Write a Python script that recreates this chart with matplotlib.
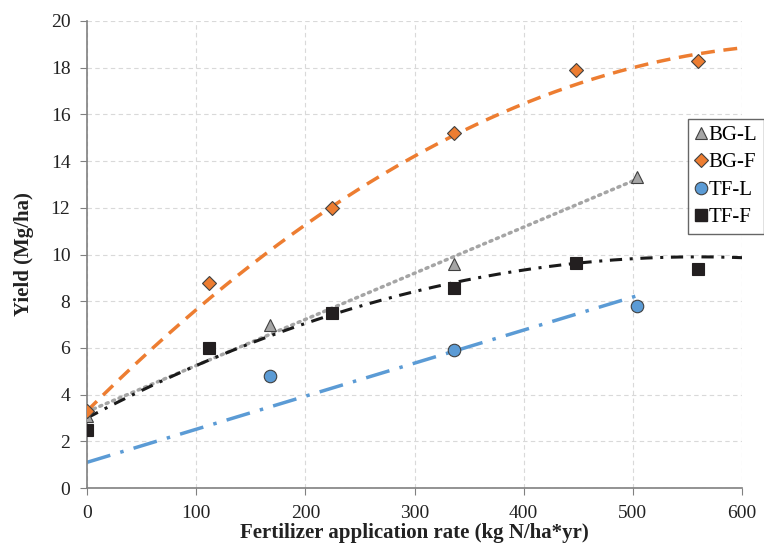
import numpy as np
import matplotlib
matplotlib.use("Agg")
import matplotlib.pyplot as plt
from matplotlib.lines import Line2D

plt.rcParams['font.family'] = ['Liberation Serif', 'DejaVu Serif']

# observed yields (Mg/ha) at each N rate (kg N/ha*yr)
bgl_x = [0, 168, 336, 504]
bgl_y = [3.1, 7.0, 9.6, 13.3]
bgf_x = [0, 112, 224, 336, 448, 560]
bgf_y = [3.3, 8.8, 12.0, 15.2, 17.9, 18.3]
tfl_x = [168, 336, 504]
tfl_y = [4.8, 5.9, 7.8]
tff_x = [0, 112, 224, 336, 448, 560]
tff_y = [2.5, 6.0, 7.5, 8.55, 9.65, 9.4]

# trend lines as drawn (coefficients c0 + c1*x + c2*x^2, x range)
bgl_trend = [3.27, 0.01976, 0.0]
bgl_range = [0, 504]
bgf_trend = [3.3, 0.04683, -3.486e-5]
bgf_range = [0, 600]
tfl_trend = [1.1, 0.01416, 0.0]
tfl_range = [0, 505]
tff_trend = [3.0, 0.02464, -2.2e-5]
tff_range = [0, 600]

fig = plt.figure(figsize=(7.64, 5.44), dpi=100)
ax = fig.add_axes([0.1139, 0.1029, 0.8573, 0.8585])

def trend(c, r):
	xx = np.linspace(r[0], r[1], 200)
	return xx, c[0] + c[1]*xx + c[2]*xx**2

x, y = trend(bgl_trend, bgl_range)
ax.plot(x, y, color='#A5A5A5', lw=2.5, linestyle=(0, (0.6, 1.4)), dash_capstyle='round', zorder=2)
x, y = trend(bgf_trend, bgf_range)
ax.plot(x, y, color='#ED7D31', lw=2.5, linestyle=(0, (4, 2.5)), zorder=2)
x, y = trend(tfl_trend, tfl_range)
ax.plot(x, y, color='#5B9BD5', lw=2.5, linestyle=(0, (7, 3, 1, 3)), zorder=2)
x, y = trend(tff_trend, tff_range)
ax.plot(x, y, color='#1a1a1a', lw=2.2, linestyle=(0, (4, 2.5, 1, 2.5)), zorder=2)

ax.plot(bgl_x, bgl_y, '^', ms=9, mfc='#A5A5A5', mec='#404040', mew=0.8, zorder=3)
ax.plot(bgf_x, bgf_y, 'D', ms=7.5, mfc='#ED7D31', mec='#404040', mew=0.8, zorder=4)
ax.plot(tfl_x, tfl_y, 'o', ms=9, mfc='#5B9BD5', mec='#404040', mew=0.8, zorder=3)
ax.plot(tff_x, tff_y, 's', ms=8.5, mfc='#231F20', mec='#231F20', mew=0.8, zorder=5)

ax.set_xlim(0, 600)
ax.set_ylim(0, 20)
ax.set_xticks(range(0, 601, 100))
ax.set_yticks(range(0, 21, 2))
ax.grid(True, color='#d9d9d9', linestyle=(0, (4, 3)), lw=0.8)
ax.set_axisbelow(True)
for s in ['top', 'right']:
	ax.spines[s].set_visible(False)
for s in ['left', 'bottom']:
	ax.spines[s].set_color('#808080')
	ax.spines[s].set_linewidth(1.2)
ax.tick_params(direction='out', length=5, color='#808080', labelsize=14, labelcolor='#222222', pad=7)

ax.set_xlabel('Fertilizer application rate (kg N/ha*yr)', fontsize=15, fontweight='bold', labelpad=1, color='#222222')
ax.set_ylabel('Yield (Mg/ha)', fontsize=15, fontweight='bold', labelpad=12, color='#222222')

handles = [
	Line2D([], [], ls='', marker='^', ms=9, mfc='#A5A5A5', mec='#404040', mew=0.8),
	Line2D([], [], ls='', marker='D', ms=7.5, mfc='#ED7D31', mec='#404040', mew=0.8),
	Line2D([], [], ls='', marker='o', ms=9, mfc='#5B9BD5', mec='#404040', mew=0.8),
	Line2D([], [], ls='', marker='s', ms=8.5, mfc='#231F20', mec='#231F20'),
]
leg = fig.legend(handles, ['BG-L', 'BG-F', 'TF-L', 'TF-F'], loc='upper left',
	bbox_to_anchor=(688/764, 1 - 119/544), fontsize=15, frameon=True, fancybox=False,
	handletextpad=0.1, handlelength=0.6, borderpad=0.3, labelspacing=0.38, borderaxespad=0)
leg.get_frame().set_edgecolor('#404040')
leg.get_frame().set_linewidth(1.0)

fig.savefig('out.png', dpi=100)
